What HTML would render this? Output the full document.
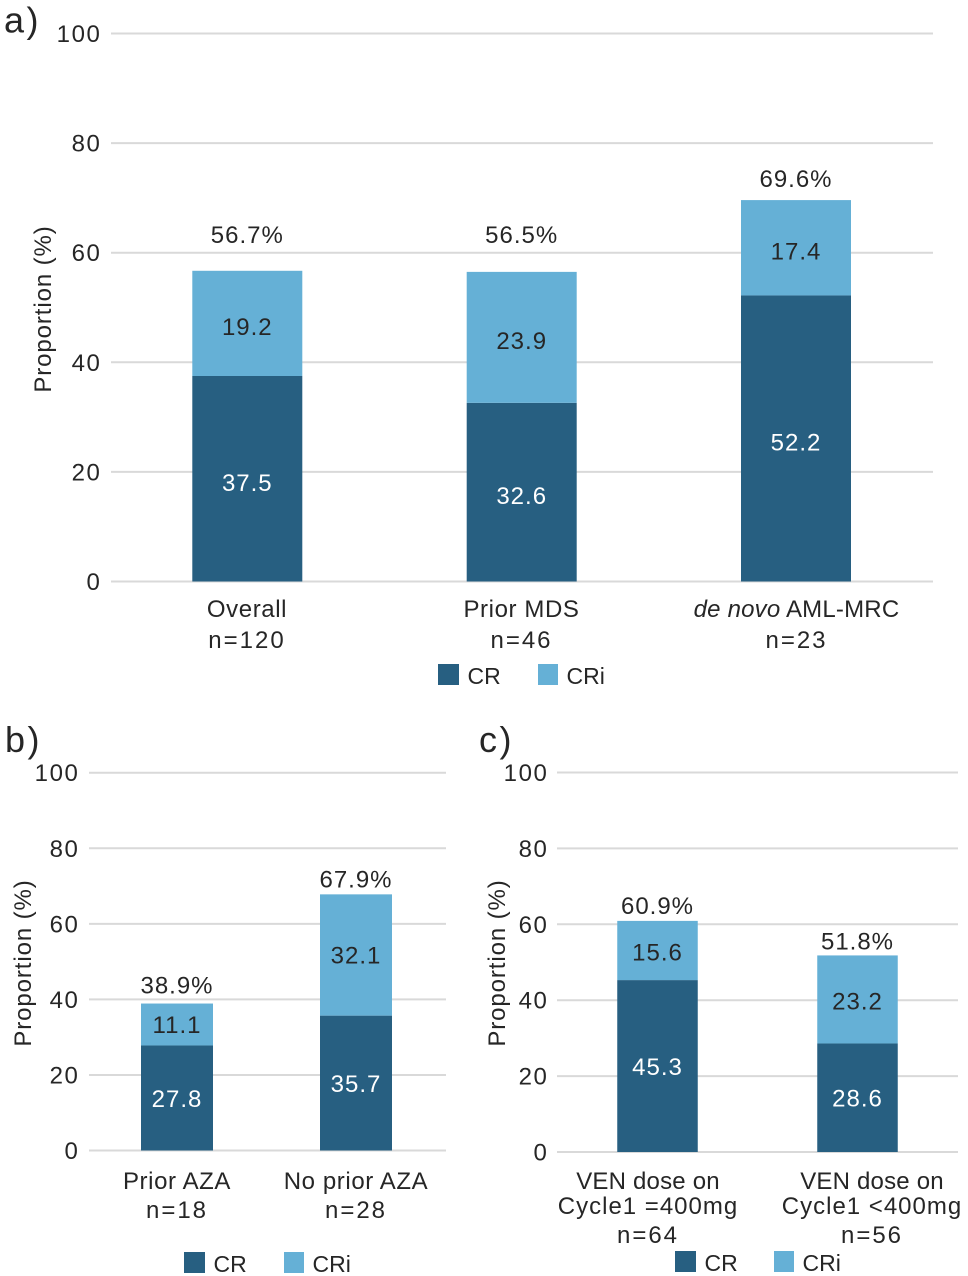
<!DOCTYPE html>
<html lang="en">
<head>
<meta charset="utf-8">
<title>CR and CRi proportions</title>
<style>
html,body{margin:0;padding:0;background:#fff;}
#figure{display:block;width:968px;height:1276px;}
text{font-family:"Liberation Sans",sans-serif;fill:#262626;}
</style>
</head>
<body>
<svg id="figure" xmlns="http://www.w3.org/2000/svg" width="968" height="1276" viewBox="0 0 968 1276"></svg>
<script>
// ---- chart data ----
const yTicks = [0, 20, 40, 60, 80, 100];

const categoriesA = [["Overall", "n=120"], ["Prior MDS", "n=46"], ["de novo AML-MRC", "n=23"]];
const crA = [37.5, 32.6, 52.2];
const criA = [19.2, 23.9, 17.4];
const totalsA = ["56.7%", "56.5%", "69.6%"];

const categoriesB = [["Prior AZA", "n=18"], ["No prior AZA", "n=28"]];
const crB = [27.8, 35.7];
const criB = [11.1, 32.1];
const totalsB = ["38.9%", "67.9%"];

const categoriesC = [["VEN dose on", "Cycle1 =400mg", "n=64"], ["VEN dose on", "Cycle1 <400mg", "n=56"]];
const crC = [45.3, 28.6];
const criC = [15.6, 23.2];
const totalsC = ["60.9%", "51.8%"];

// ---- rendering ----
const NS = "http://www.w3.org/2000/svg";
const root = document.getElementById("figure");
const CR_COLOR = "#275f81";
const CRI_COLOR = "#65b0d6";
const GRID_COLOR = "#d9d9d9";

function mk(parent, tag, attrs, content) {
  const el = document.createElementNS(NS, tag);
  for (const k in attrs) el.setAttribute(k, attrs[k]);
  if (content !== undefined) el.textContent = content;
  parent.appendChild(el);
  return el;
}

function catSpacing(line) {
  if (line.indexOf("n=") === 0) return 2;
  if (line.indexOf("Cycle1") === 0) return 1;
  if (line.indexOf("VEN") === 0) return 0.2;
  if (line.indexOf("de novo") === 0) return 0.2;
  return 0.6;
}

function drawPanel(p) {
  const yScale = v => p.y0 + (p.y100 - p.y0) * v / 100;
  const xScale = i => p.barCenters[i];

  const g = mk(root, "g", {});
  
  

  const letter = mk(g, "text", {x: p.letterX, y: p.letterY, "font-size": 36, "letter-spacing": 2.5}, p.letter);
  
  

  yTicks.forEach(t => {
    const line = mk(g, "line", {x1: p.left, x2: p.right, y1: yScale(t), y2: yScale(t), stroke: GRID_COLOR, "stroke-width": 2});
    
    
    const label = mk(g, "text", {x: p.tickX, y: yScale(t) + 8.5, "font-size": 24, "letter-spacing": 1.6, "text-anchor": "end"}, String(t));
    
    
  });

  const title = mk(g, "text", {
    transform: "translate(" + p.titleX + "," + p.titleY + ") rotate(-90)",
    "font-size": 24, "letter-spacing": 0.9, "text-anchor": "middle"
  }, "Proportion (%)");
  
  

  p.categories.forEach((lines, i) => {
    const cx = xScale(i);
    const yCr = yScale(p.cr[i]);
    const yTop = yScale(p.cr[i] + p.cri[i]);

    const barCr = mk(g, "rect", {x: cx - p.barWidth / 2, y: yCr, width: p.barWidth, height: p.y0 - yCr, fill: CR_COLOR});
    
    

    const barCri = mk(g, "rect", {x: cx - p.barWidth / 2, y: yTop, width: p.barWidth, height: yCr - yTop, fill: CRI_COLOR});
    
    

    const valCr = mk(g, "text", {x: cx, y: (yCr + p.y0) / 2 + p.crOffset, "font-size": 24, "letter-spacing": 1, "text-anchor": "middle", style: "fill:#fff"}, p.cr[i].toFixed(1));
    
    

    const valCri = mk(g, "text", {x: cx, y: (yTop + yCr) / 2 + p.criOffset, "font-size": 24, "letter-spacing": 1, "text-anchor": "middle"}, p.cri[i].toFixed(1));
    
    

    const total = mk(g, "text", {x: cx, y: yTop - p.totalGaps[i], "font-size": 24, "letter-spacing": 1, "text-anchor": "middle"}, p.totals[i]);
    
    

    lines.forEach((line, j) => {
      const cat = mk(g, "text", {x: p.catCenters[i], y: p.catLineY[j], "font-size": 24, "letter-spacing": catSpacing(line), "text-anchor": "middle"});
      
      
      if (line.indexOf("de novo ") === 0) {
        mk(cat, "tspan", {"font-style": "italic"}, "de novo");
        mk(cat, "tspan", {}, line.slice(7));
      } else {
        cat.textContent = line;
      }
    });
  });

  const legend = mk(g, "g", {});
  
  

  const swCr = mk(legend, "rect", {x: p.legendX[0], y: p.legendY, width: 21, height: 21, fill: CR_COLOR});
  
  
  const txCr = mk(legend, "text", {x: p.legendX[0] + 29.5, y: p.legendY + 20, "font-size": 23}, "CR");
  
  

  const swCri = mk(legend, "rect", {x: p.legendX[1], y: p.legendY, width: 20, height: 21, fill: CRI_COLOR});
  
  
  const txCri = mk(legend, "text", {x: p.legendX[1] + 28.5, y: p.legendY + 20, "font-size": 23}, "CRi");
  
  
}

drawPanel({
  name: "panel-a", letter: "a)", letterX: 4, letterY: 32.5,
  categories: categoriesA, cr: crA, cri: criA, totals: totalsA,
  y0: 581.5, y100: 33.5, left: 111, right: 933, tickX: 101.5,
  titleX: 51, titleY: 309,
  barCenters: [247.3, 521.7, 796], catCenters: [247, 521.5, 796.5], barWidth: 110,
  totalGaps: [28, 29, 13], crOffset: 12, criOffset: 11.5,
  catLineY: [617, 648], legendX: [438, 538], legendY: 664
});
drawPanel({
  name: "panel-b", letter: "b)", letterX: 5, letterY: 752,
  categories: categoriesB, cr: crB, cri: criB, totals: totalsB,
  y0: 1150.5, y100: 772.7, left: 89, right: 446, tickX: 79.5,
  titleX: 31, titleY: 963,
  barCenters: [177, 356], catCenters: [177, 356], barWidth: 72,
  totalGaps: [10, 7], crOffset: 9, criOffset: 8.5,
  catLineY: [1189, 1218], legendX: [184, 284], legendY: 1252
});
drawPanel({
  name: "panel-c", letter: "c)", letterX: 479, letterY: 752,
  categories: categoriesC, cr: crC, cri: criC, totals: totalsC,
  y0: 1152, y100: 772.5, left: 557, right: 958, tickX: 548.5,
  titleX: 505, titleY: 963,
  barCenters: [657.5, 857.5], catCenters: [648, 872], barWidth: 80.5,
  totalGaps: [7, 6], crOffset: 9, criOffset: 10,
  catLineY: [1189, 1214, 1243], legendX: [675, 774], legendY: 1251
});
</script>
</body>
</html>
